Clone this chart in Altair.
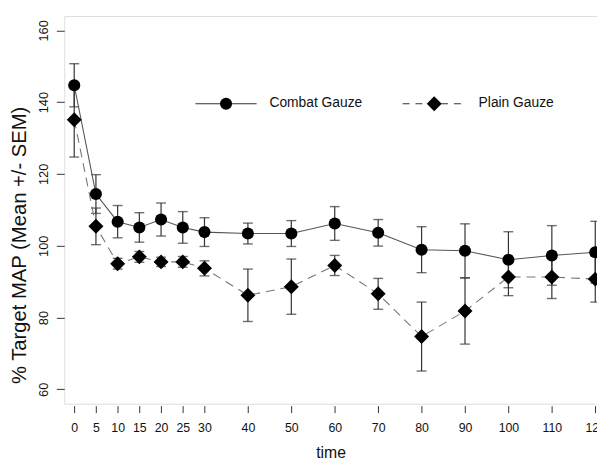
import altair as alt
import pandas as pd

time = [0, 5, 10, 15, 20, 25, 30, 40, 50, 60, 70, 80, 90, 100, 110, 120]
combat_mean = [144.7, 114.4, 106.7, 105.1, 107.3, 105.1, 103.8, 103.4, 103.4, 106.2, 103.6, 98.9, 98.6, 96.1, 97.3, 98.2]
combat_sem = [6.0, 5.4, 4.5, 4.1, 4.6, 4.4, 4.0, 2.9, 3.6, 4.7, 3.7, 6.4, 7.5, 7.8, 8.3, 8.6]
plain_mean = [135.1, 105.4, 95.0, 96.9, 95.5, 95.5, 93.7, 86.2, 88.6, 94.5, 86.6, 74.7, 81.8, 91.3, 91.3, 90.7]
plain_sem = [10.4, 5.1, 1.5, 1.5, 1.3, 1.5, 2.1, 7.3, 7.7, 2.8, 4.3, 9.6, 9.2, 5.2, 6.0, 6.4]
groups = ["Combat Gauze", "Plain Gauze"]
x_ticks = [0, 5, 10, 15, 20, 25, 30, 40, 50, 60, 70, 80, 90, 100, 110, 120]
y_ticks = [60, 80, 100, 120, 140, 160]

rows = []
for g, means, sems in [(groups[0], combat_mean, combat_sem), (groups[1], plain_mean, plain_sem)]:
    for t, m, s in zip(time, means, sems):
        rows.append({"time": t, "group": g, "mean": m, "lo": m - s, "hi": m + s})
df = pd.DataFrame(rows)

REG = "Liberation Sans, Arial, sans-serif"

x_enc = alt.X(
    "time:Q",
    scale=alt.Scale(domain=[-2.3, 120.4], nice=False, zero=False),
    axis=alt.Axis(
        values=x_ticks, title="time", grid=False, domain=False,
        tickSize=7, offset=2, tickColor="#333", labelColor="#111",
        labelFont=REG, labelFontSize=12.5, labelPadding=9,
        labelFlush=False, labelOverlap=False,
        titleFont=REG, titleFontSize=16, titleFontWeight="normal",
        titleColor="#111", titlePadding=11,
    ),
)
y_scale = alt.Scale(domain=[56, 164], nice=False, zero=False)
y_axis = alt.Axis(
    values=y_ticks, title="% Target MAP (Mean +/- SEM)", grid=False, domain=False,
    tickSize=8, tickColor="#333", labelColor="#111",
    labelFont=REG, labelFontSize=13, labelAngle=270, labelAlign="center",
    labelBaseline="alphabetic", labelPadding=9, labelFlush=False, labelOverlap=False,
    titleFont=REG, titleFontSize=20.5, titleFontWeight="normal", titleColor="#111",
    titleAngle=270, titleAlign="center", titleBaseline="middle",
    titleX=-45, titleY=232,
)

base = alt.Chart(df)

err = base.mark_rule(color="#333", strokeWidth=1.2).encode(
    x=x_enc, y=alt.Y("lo:Q", scale=y_scale, axis=y_axis), y2="hi:Q"
)
cap_lo = base.mark_tick(orient="horizontal", size=10, thickness=1.4, color="#333").encode(
    x=x_enc, y=alt.Y("lo:Q", scale=y_scale, axis=y_axis)
)
cap_hi = base.mark_tick(orient="horizontal", size=10, thickness=1.4, color="#333").encode(
    x=x_enc, y=alt.Y("hi:Q", scale=y_scale, axis=y_axis)
)
line_c = base.transform_filter(alt.datum.group == groups[0]).mark_line(
    color="#555", strokeWidth=1.1
).encode(x=x_enc, y=alt.Y("mean:Q", scale=y_scale, axis=y_axis))
line_p = base.transform_filter(alt.datum.group == groups[1]).mark_line(
    color="#777", strokeWidth=1.1, strokeDash=[9, 6]
).encode(x=x_enc, y=alt.Y("mean:Q", scale=y_scale, axis=y_axis))
pts = base.mark_point(filled=True, opacity=1, color="black").encode(
    x=x_enc,
    y=alt.Y("mean:Q", scale=y_scale, axis=y_axis),
    shape=alt.Shape("group:N", scale=alt.Scale(domain=groups, range=["circle", "diamond"]), legend=None),
    size=alt.Size("group:N", scale=alt.Scale(domain=groups, range=[150, 230]), legend=None),
)

leg_df = pd.DataFrame({"label": groups})
leg = alt.Chart(leg_df)
leg_line_c = leg.transform_filter(alt.datum.label == groups[0]).mark_rule(color="#333", strokeWidth=1.2).encode(
    x=alt.value(133), x2=alt.value(195), y=alt.value(89))
leg_line_p = leg.transform_filter(alt.datum.label == groups[1]).mark_rule(
    color="#333", strokeWidth=1.2, strokeDash=[7, 6]).encode(
    x=alt.value(343), x2=alt.value(407), y=alt.value(89))
leg_pt_c = leg.transform_filter(alt.datum.label == groups[0]).mark_point(
    shape="circle", filled=True, opacity=1, color="black", size=150).encode(
    x=alt.value(164), y=alt.value(89))
leg_pt_p = leg.transform_filter(alt.datum.label == groups[1]).mark_point(
    shape="diamond", filled=True, opacity=1, color="black", size=230).encode(
    x=alt.value(375), y=alt.value(89))
leg_txt_c = leg.transform_filter(alt.datum.label == groups[0]).mark_text(
    align="left", baseline="middle", font=REG, fontSize=14, color="#111").encode(
    x=alt.value(208), y=alt.value(88), text="label:N")
leg_txt_p = leg.transform_filter(alt.datum.label == groups[1]).mark_text(
    align="left", baseline="middle", font=REG, fontSize=14, color="#111").encode(
    x=alt.value(420), y=alt.value(88), text="label:N")

chart = alt.layer(
    err, cap_lo, cap_hi, line_c, line_p, pts,
    leg_line_c, leg_line_p, leg_pt_c, leg_pt_p, leg_txt_c, leg_txt_p,
).properties(
    width=540, height=393,
    autosize=alt.AutoSizeParams(type="none"),
    padding={"left": 57, "top": 5, "right": 0, "bottom": 55},
).configure_view(
    stroke="#333", strokeWidth=1
).configure(background="white")

chart.save("out.html", embed_options={"renderer": "svg", "actions": False})
